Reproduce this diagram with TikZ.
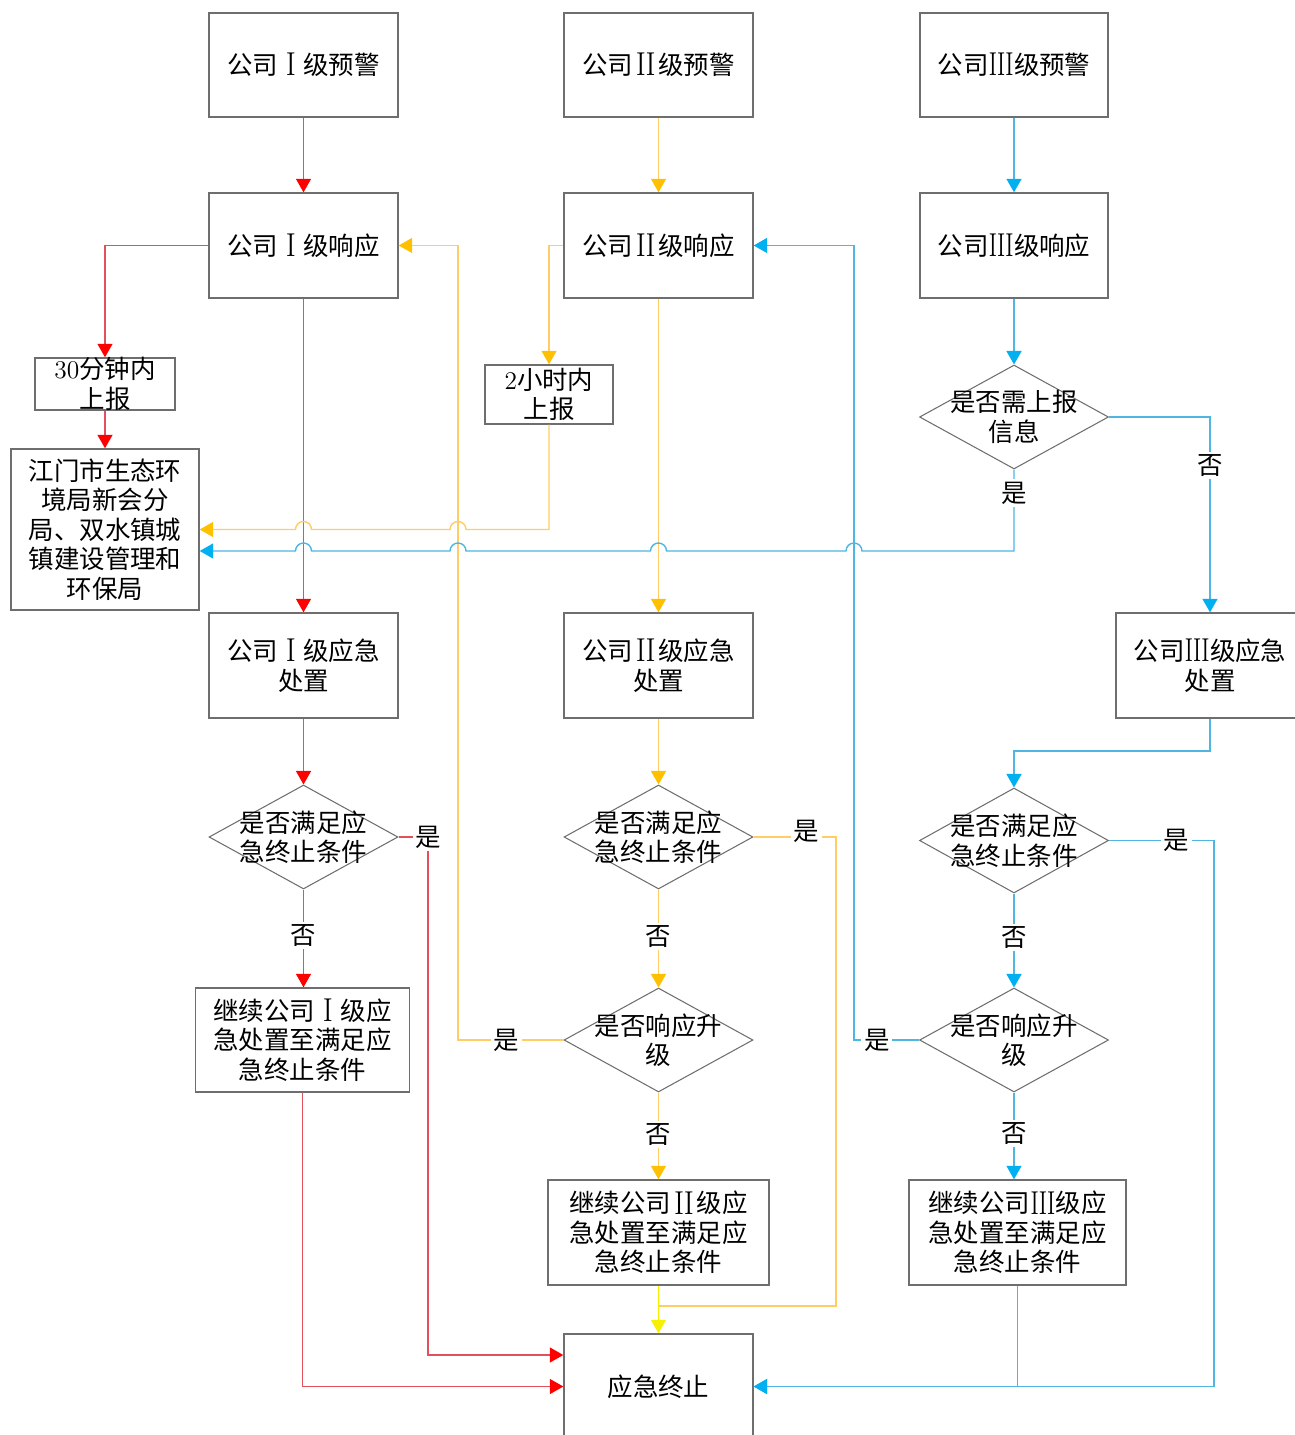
\documentclass[tikz,border=0pt]{standalone}
\usepackage{fontspec}
\usepackage{graphicx}
\newfontfamily\cjk{Noto Sans CJK SC}
\usetikzlibrary{shapes.geometric,arrows.meta,calc}

% level numerals set as serif capitals in a full-width cell
\newcommand\LvI{\makebox[1em]{\raisebox{-0.05em}{\rmfamily\scalebox{1}[1.3]{I}}}}
\newcommand\LvII{\makebox[1em]{\raisebox{-0.05em}{\rmfamily\scalebox{1}[1.3]{II}}}}
\newcommand\LvIII{\makebox[1em]{\raisebox{-0.05em}{\rmfamily\scalebox{0.85}[1.3]{III}}}}

\definecolor{redtip}{HTML}{FF0000}
\definecolor{redln}{HTML}{E2505C}
\definecolor{ortip}{HTML}{FFC000}
\definecolor{orln}{HTML}{FFCC66}
\definecolor{bltip}{HTML}{00B0F0}
\definecolor{blln}{HTML}{4FB6E2}
\definecolor{yel}{HTML}{F7F000}
\definecolor{frame}{HTML}{6E6E6E}

\tikzset{
  box/.style n args={2}{draw=frame, line width=0.8pt, minimum width=#1,
    minimum height=#2, inner sep=0pt, align=center},
  dia/.style n args={2}{shape=diamond, draw=frame, line width=0.6pt,
    minimum width=#1, minimum height=#2, inner sep=0pt},
  tipshape/.style={-{Triangle[length=0.27cm,width=0.3cm,color=#1]}},
  rl/.style={draw=redln, line width=0.8pt},
  ra/.style={rl, tipshape=redtip},
  ol/.style={draw=orln, line width=0.8pt},
  oa/.style={ol, tipshape=ortip},
  bl/.style={draw=blln, line width=0.8pt},
  ba/.style={bl, tipshape=bltip},
  ya/.style={draw=yel, line width=0.8pt, tipshape=yel},
  lab/.style={fill=white, inner sep=1.5pt}
}

\begin{document}
\begin{tikzpicture}[x=0.02cm, y=-0.02cm,
  font=\cjk\fontsize{14.5pt}{16.8pt}\selectfont]
\useasboundingbox (0,0) rectangle (1294,1435);

% ---- warnings ----
\node[box={3.78cm}{2.08cm}] (w1) at (303.5,65) {公司\LvI 级预警};
\node[box={3.78cm}{2.08cm}] (w2) at (658.5,65) {公司\LvII 级预警};
\node[box={3.76cm}{2.08cm}] (w3) at (1014,65) {公司\LvIII 级预警};

% ---- responses ----
\node[box={3.78cm}{2.1cm}] (r1) at (303.5,245.5) {公司\LvI 级响应};
\node[box={3.78cm}{2.1cm}] (r2) at (658.5,245.5) {公司\LvII 级响应};
\node[box={3.76cm}{2.1cm}] (r3) at (1014,245.5) {公司\LvIII 级响应};

% ---- reporting ----
\node[box={2.8cm}{1.04cm}, label={[align=center]center:{\rmfamily 30}分钟内\\上报}] (rep1) at (105,384) {};
\node[box={2.56cm}{1.18cm}, label={[align=center]center:{\rmfamily 2}小时内\\上报}] (rep2) at (549,394.5) {};
\node[box={3.76cm}{3.22cm}] (jm) at (105,529.5)
  {江门市生态环\\境局新会分\\局、双水镇城\\镇建设管理和\\环保局};
\node[dia={3.78cm}{2.08cm}, label={[align=center]center:是否需上报\\信息}] (s3) at (1014,417) {};

% ---- emergency handling ----
\node[box={3.78cm}{2.1cm}] (e1) at (303.5,665.5) {公司\LvI 级应急\\处置};
\node[box={3.78cm}{2.1cm}] (e2) at (658.5,665.5) {公司\LvII 级应急\\处置};
\node[box={3.76cm}{2.1cm}] (e4) at (1210,665.5) {公司\LvIII 级应急\\处置};

% ---- termination checks ----
\node[dia={3.78cm}{2.08cm}, label={[align=center]center:是否满足应\\急终止条件}] (d1) at (303.5,837) {};
\node[dia={3.78cm}{2.08cm}, label={[align=center]center:是否满足应\\急终止条件}] (d2) at (658.5,837) {};
\node[dia={3.78cm}{2.1cm}, label={[align=center]center:是否满足应\\急终止条件}] (d3) at (1014,840.5) {};

% ---- escalation checks ----
\node[dia={3.78cm}{2.08cm}, label={[align=center]center:是否响应升\\级}] (u2) at (658.5,1040) {};
\node[dia={3.78cm}{2.08cm}, label={[align=center]center:是否响应升\\级}] (u3) at (1014,1040) {};

% ---- continue handling ----
\node[box={4.28cm}{2.08cm}] (c1) at (302.5,1040) {继续公司\LvI 级应\\急处置至满足应\\急终止条件};
\node[box={4.42cm}{2.1cm}] (c2) at (658.5,1232.5) {继续公司\LvII 级应\\急处置至满足应\\急终止条件};
\node[box={4.34cm}{2.1cm}] (c3) at (1017.5,1232.5) {继续公司\LvIII 级应\\急处置至满足应\\急终止条件};

% ---- end ----
\node[box={3.78cm}{2.1cm}] (end) at (658.5,1386.5) {应急终止};

% ---- corridor coordinates ----
\coordinate (yb) at (0,551);
\coordinate (a1) at (428,1355);
\coordinate (a2) at (836,1306);
\coordinate (a3) at (1214,1386.5);

% ===== level I (red) =====
\draw[ra] (w1) -- (r1);
\draw[ra] (r1.west) -| (rep1.north);
\draw[ra] (rep1) -- (jm);
\draw[ra] (r1) -- (e1);
\draw[ra] (e1) -- (d1);
\draw[ra] (d1.east) -| node[lab,pos=0.5]{是} (a1) -- (a1 -| end.west);
\draw[ra] (d1.south) -- node[lab,pos=0.47]{否} (d1.south |- c1.north);
\draw[ra] (c1.south) |- (end.west);

% ===== level II (orange) =====
\draw[oa] (w2) -- (r2);
\draw[oa] (r2.west) -| (rep2.north);
\draw[oa] (rep2.south) -- (rep2.south |- jm.east)
  -- (466,529.5) arc[start angle=0,end angle=180,radius=0.16cm]
  -- (311.5,529.5) arc[start angle=0,end angle=180,radius=0.16cm]
  -- (jm.east);
\draw[oa] (r2) -- (e2);
\draw[oa] (e2) -- (d2);
\draw[ol] (d2.east) -- node[lab,pos=0.64,yshift=0.12cm]{是} (d2.east -| a2) -- (a2) -- (a2 -| c2.south);
\draw[oa] (d2.south) -- node[lab,pos=0.48]{否} (u2.north);
\draw[oa] (u2.west) -- node[lab,pos=0.54]{是} (458,1040) |- (r1.east);
\draw[oa] (u2.south) -- node[lab,pos=0.48]{否} (c2.north);
\draw[ya] (c2.south) -- (end.north);

% ===== level III (blue) =====
\draw[ba] (w3) -- (r3);
\draw[ba] (r3) -- (s3);
\draw[ba] (s3.south) -- node[lab,pos=0.29]{是} (s3.south |- yb)
  -- (862,551) arc[start angle=0,end angle=180,radius=0.16cm]
  -- (666.5,551) arc[start angle=0,end angle=180,radius=0.16cm]
  -- (466,551) arc[start angle=0,end angle=180,radius=0.16cm]
  -- (311.5,551) arc[start angle=0,end angle=180,radius=0.16cm]
  -- (jm.east |- yb);
\draw[ba] (s3.east) -| node[lab,pos=0.625]{否} (e4.north);
\draw[ba] (e4.south) -- (1210,751) -| (d3.north);
\draw[ba] (d3.south) -- node[lab,pos=0.47]{否} (u3.north);
\draw[ba] (u3.west) -- node[lab,pos=0.65]{是} (854,1040) |- (r2.east);
\draw[ba] (u3.south) -- node[lab,pos=0.47]{否} (u3.south |- c3.north);
\draw[ba] (c3.south) |- (end.east);
\draw[ba] (d3.east) -- node[lab,pos=0.64]{是} (d3.east -| a3) -- (a3) -- (end.east);
\end{tikzpicture}
\end{document}
